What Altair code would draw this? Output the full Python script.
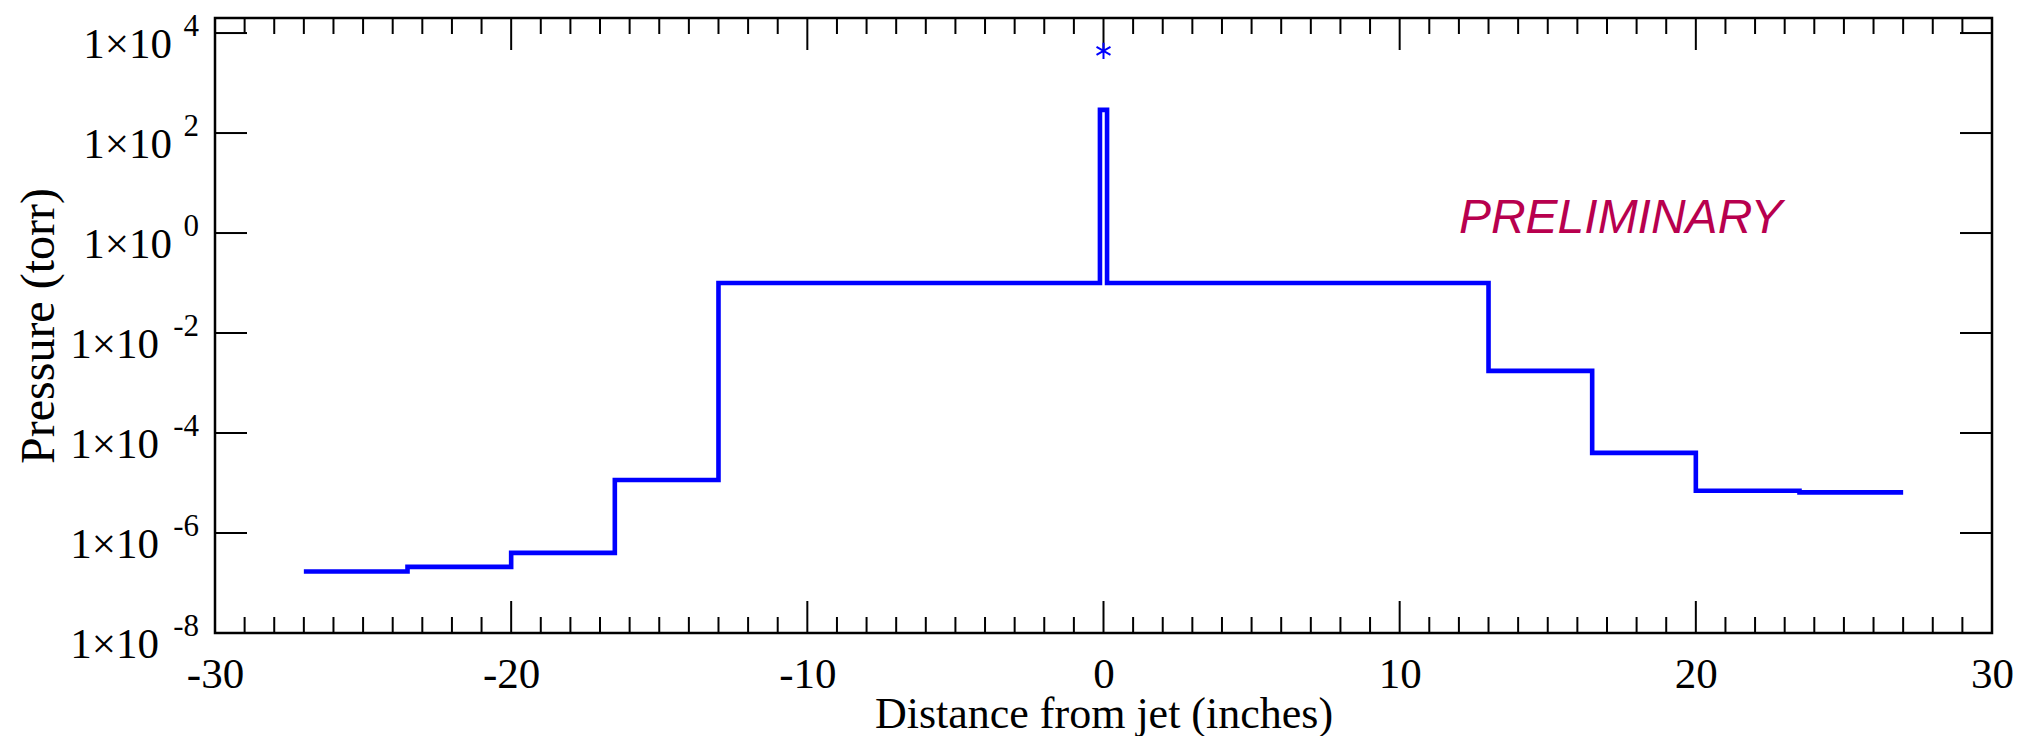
import altair as alt
import pandas as pd

# ---- data ------------------------------------------------------------------
# step profile: position (inches) where each level starts, and pressure (torr)
x_edges = [-27.0, -23.5, -20.0, -16.5, -13.0, -0.12, 0.12, 13.0, 16.5, 20.0, 23.5, 27.0]
pressure = [1.7e-7, 2.1e-7, 4.0e-7, 1.15e-5, 0.1, 290.0, 0.1, 1.75e-3, 4.0e-5, 7.0e-6, 6.5e-6, 6.5e-6]

star_x = [0.0]
star_p = [4400.0]

x_major = [-30, -20, -10, 0, 10, 20, 30]
x_minor = [v for v in range(-30, 31) if v % 10 != 0]
y_exponents = [-8, -6, -4, -2, 0, 2, 4]

note_text = ["PRELIMINARY"]
note_x = [12.0]
note_p = [1.0]

# ---- layout ------------------------------------------------------------------
W, H = 1777, 615
MAJOR, MINOR = 32, 16
SERIF = "Liberation Serif"
BLUE = "#0000ff"

x_scale = alt.Scale(domain=[-30, 30], nice=False, zero=False)
y_scale = alt.Scale(type="log", domain=[1e-8, 2e4], nice=False)

line_df = pd.DataFrame({"x": x_edges, "p": pressure})
star_df = pd.DataFrame({"x": star_x, "p": star_p})
note_df = pd.DataFrame({"x": note_x, "p": note_p, "t": note_text})
xmaj_df = pd.DataFrame({"v": x_major})
xmin_df = pd.DataFrame({"v": x_minor})
yexp_df = pd.DataFrame({"e": y_exponents})

x_axis = alt.Axis(
    values=x_major, labelExpr="datum.value + ''", labelFont=SERIF, labelFontSize=43,
    labelColor="black", labelBaseline="alphabetic", labelPadding=54, labelFlush=False,
    labelOverlap=False, ticks=False, tickSize=0, domain=False, grid=False,
    title="Distance from jet (inches)", titleFont=SERIF, titleFontSize=44,
    titleFontWeight="normal", titleColor="black", titleBaseline="alphabetic", titleY=94,
)
y_axis = alt.Axis(
    labels=False, ticks=False, tickSize=0, domain=False, grid=False,
    title="Pressure (torr)", titleFont=SERIF, titleFontSize=48, titleFontWeight="normal",
    titleColor="black", titleAngle=270, titleBaseline="alphabetic", titleAlign="center",
    titleX=-162, titleY=H / 2,
)

line = alt.Chart(line_df).mark_line(
    interpolate="step-after", color=BLUE, strokeWidth=4.6, strokeJoin="miter", strokeCap="butt"
).encode(
    x=alt.X("x:Q", scale=x_scale, axis=x_axis),
    y=alt.Y("p:Q", scale=y_scale, axis=y_axis),
)

ASTERISK = "M0,-1L0,1M-0.866,-0.5L0.866,0.5M-0.866,0.5L0.866,-0.5"
star = alt.Chart(star_df).mark_point(
    shape=ASTERISK, filled=False, color=BLUE, strokeWidth=2, size=260, opacity=1
).encode(
    x=alt.X("x:Q", scale=x_scale),
    y=alt.Y("p:Q", scale=y_scale),
)

note = alt.Chart(note_df).mark_text(
    font="Liberation Sans", fontSize=48, fontStyle="italic", color="#b8004e",
    align="left", baseline="alphabetic",
).encode(
    x=alt.X("x:Q", scale=x_scale),
    y=alt.Y("p:Q", scale=y_scale),
    text="t:N",
)


def xticks(df, length):
    bottom = alt.Chart(df).mark_rule(color="black", strokeWidth=2).encode(
        x=alt.X("v:Q", scale=x_scale), y=alt.value(H), y2=alt.value(H - length)
    )
    top = alt.Chart(df).mark_rule(color="black", strokeWidth=2).encode(
        x=alt.X("v:Q", scale=x_scale), y=alt.value(0), y2=alt.value(length)
    )
    return [bottom, top]


ybase = alt.Chart(yexp_df).transform_calculate(val="pow(10, datum.e)")
yticks = [
    ybase.mark_rule(color="black", strokeWidth=2).encode(
        y=alt.Y("val:Q", scale=y_scale), x=alt.value(0), x2=alt.value(MAJOR)
    ),
    ybase.mark_rule(color="black", strokeWidth=2).encode(
        y=alt.Y("val:Q", scale=y_scale), x=alt.value(W), x2=alt.value(W - MAJOR)
    ),
]

ylab_pos = ybase.transform_filter("datum.e >= 0").mark_text(
    font=SERIF, fontSize=43, color="black", align="right", baseline="alphabetic", dy=25
).encode(y=alt.Y("val:Q", scale=y_scale), x=alt.value(-43), text=alt.value("1×10"))
ylab_neg = ybase.transform_filter("datum.e < 0").mark_text(
    font=SERIF, fontSize=43, color="black", align="right", baseline="alphabetic", dy=25
).encode(y=alt.Y("val:Q", scale=y_scale), x=alt.value(-56), text=alt.value("1×10"))
ylab_exp = ybase.transform_calculate(lab="'' + datum.e").mark_text(
    font=SERIF, fontSize=31, color="black", align="right", baseline="alphabetic", dy=3
).encode(y=alt.Y("val:Q", scale=y_scale), x=alt.value(-16), text="lab:N")

layers = [line] + xticks(xmaj_df, MAJOR) + xticks(xmin_df, MINOR) + yticks + [
    ylab_pos, ylab_neg, ylab_exp, star, note
]

chart = alt.layer(*layers).properties(
    width=W, height=H,
    autosize=alt.AutoSizeParams(type="none"),
    padding={"left": 207, "top": 10, "right": 39, "bottom": 103},
    background="white",
).configure_view(stroke="black", strokeWidth=2.5)

chart.save("out.html", embed_options={"renderer": "svg", "actions": False})
